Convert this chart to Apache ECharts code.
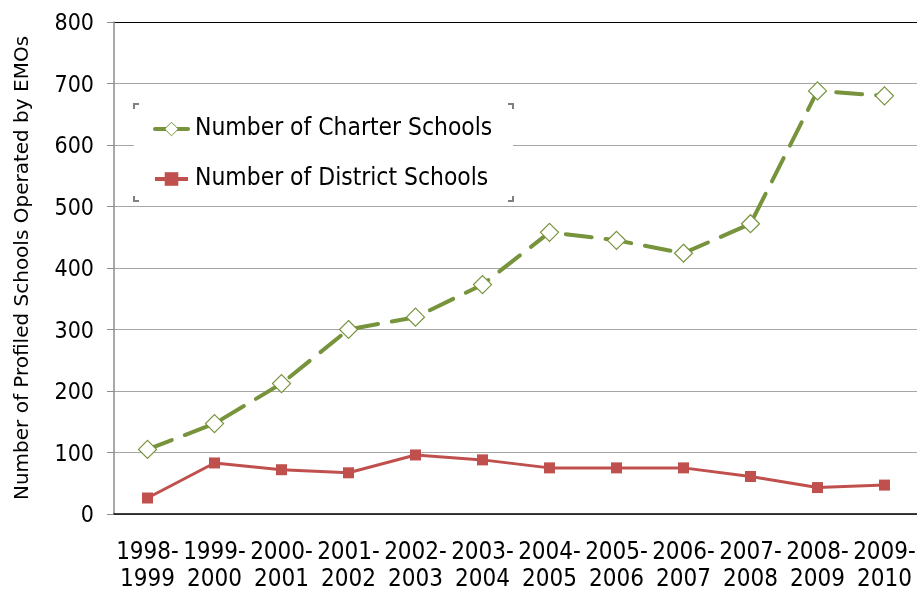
<!DOCTYPE html>
<html>
<head>
<meta charset="utf-8">
<script src="https://cdn.jsdelivr.net/npm/echarts@6/dist/echarts.min.js"></script>
<style>html,body{margin:0;padding:0;background:#fff;}#c{width:917px;height:590px;}</style>
</head>
<body>
<div id="c"></div>
<script>
var categories = ['1998-\n1999','1999-\n2000','2000-\n2001','2001-\n2002','2002-\n2003','2003-\n2004','2004-\n2005','2005-\n2006','2006-\n2007','2007-\n2008','2008-\n2009','2009-\n2010'];
var charterSchools = [105, 147, 212, 300, 320, 373, 458, 445, 424, 472, 688, 680];
var districtSchools = [26, 83, 72, 67, 96, 88, 75, 75, 75, 61, 43, 47];
var yTicks = [0, 100, 200, 300, 400, 500, 600, 700, 800];

var FONT = '"DejaVu Sans Condensed", "DejaVu Sans", sans-serif';
var FONT_WIDE = '"DejaVu Sans", sans-serif';
var chart = echarts.init(document.getElementById('c'));
var gridColors = yTicks.map(function (v, i) { return i === yTicks.length - 1 ? '#000' : '#a6a6a6'; });

function corner(x, y, dx, dy) {
  return { type: 'polyline', shape: { points: [[x + dx * 5, y], [x, y], [x, y + dy * 5]] },
    style: { stroke: '#808080', lineWidth: 2, fill: null }, z: 100 };
}

chart.setOption({
  animation: false,
  backgroundColor: '#fff',
  textStyle: { fontFamily: FONT },
  grid: { left: 114, right: -1, top: 22, bottom: 76, containLabel: false, outerBoundsMode: 'none' },
  legend: {
    orient: 'vertical',
    left: 153, top: 117,
    padding: 0,
    z: 10,
    itemGap: 26,
    itemWidth: 33, itemHeight: 17,
    textStyle: { fontFamily: FONT, fontSize: 24.4, color: '#000', padding: [0, 0, 0, 2] },
    data: [
      { name: 'Number of Charter Schools', itemStyle: { color: '#fff', borderColor: '#77933c', borderWidth: 1 }, lineStyle: { type: 'solid', color: '#77933c', width: 4 } },
      { name: 'Number of District Schools', lineStyle: { type: 'solid', color: '#c0504d', width: 4 } }
    ]
  },
  graphic: [
    { type: 'rect', shape: { x: 134, y: 104, width: 379, height: 97 }, style: { fill: '#fff' }, z: 1 },
    corner(134, 104, 1, 1), corner(513, 104, -1, 1),
    corner(134, 201, 1, -1), corner(513, 201, -1, -1)
  ],
  xAxis: {
    type: 'category',
    data: categories,
    boundaryGap: true,
    axisLine: { show: true, lineStyle: { color: '#000', width: 1.5 } },
    axisTick: { show: false },
    axisLabel: { interval: 0, margin: 25, fontFamily: FONT, fontSize: 24, lineHeight: 27, color: '#000' }
  },
  yAxis: {
    type: 'value',
    min: 0, max: 800, interval: 100,
    name: 'Number of Profiled Schools Operated by EMOs',
    nameLocation: 'middle',
    nameGap: 81,
    nameTextStyle: { fontFamily: FONT_WIDE, fontSize: 20, color: '#000' },
    axisLine: { show: true, lineStyle: { color: '#8c8c8c', width: 1.5 } },
    axisTick: { show: true, length: 7, lineStyle: { color: '#8c8c8c' } },
    axisLabel: {
      margin: 20, color: '#000',
      formatter: '{a|{value}}',
      rich: { a: { fontFamily: FONT, fontSize: 23, color: '#000', padding: [5, 0, 0, 0] } }
    },
    splitLine: { show: true, lineStyle: { color: gridColors, width: 1.2 } }
  },
  series: [
    {
      name: 'Number of Charter Schools',
      type: 'line',
      data: charterSchools,
      symbol: 'diamond',
      symbolSize: 18,
      lineStyle: { color: '#77933c', width: 4, type: [26, 14], cap: 'round' },
      itemStyle: { color: '#fff', borderColor: '#77933c', borderWidth: 1.2 },
      z: 3
    },
    {
      name: 'Number of District Schools',
      type: 'line',
      data: districtSchools,
      symbol: 'rect',
      symbolSize: 11,
      lineStyle: { color: '#c0504d', width: 3 },
      itemStyle: { color: '#c0504d' },
      z: 2
    }
  ]
});
</script>
</body>
</html>
